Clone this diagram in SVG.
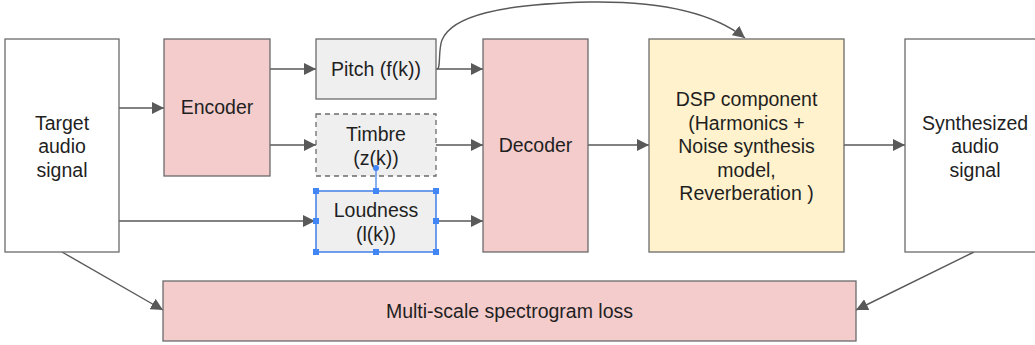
<svg xmlns="http://www.w3.org/2000/svg" width="1035" height="345" viewBox="0 0 1035 345">
<style>
.box{stroke:#6b6b6b;stroke-width:1.3}
.white{fill:#ffffff}
.pink{fill:#f4cccc}
.gray{fill:#efefef}
.yellow{fill:#fff2cc}
.dash{stroke-dasharray:5,4}
text{font-family:"Liberation Sans",Arial,sans-serif;font-size:19.5px;fill:#1f1f1f;text-anchor:middle}
.conn{stroke:#595959;stroke-width:1.4;fill:none;marker-end:url(#ah)}
.sel{fill:#4285f4}
</style>
<defs>
<marker id="ah" viewBox="0 0 10 10" refX="10" refY="5" markerWidth="12" markerHeight="12" markerUnits="userSpaceOnUse" orient="auto">
<path d="M0,0 L10,5 L0,10 z" fill="#595959"/>
</marker>
</defs>
<rect width="1035" height="345" fill="#ffffff"/>
<g id="connectors">
<line class="conn" x1="119" y1="108" x2="164" y2="108"/>
<line class="conn" x1="270" y1="69" x2="316" y2="69"/>
<line class="conn" x1="270" y1="145" x2="316" y2="145"/>
<line class="conn" x1="119" y1="221" x2="315" y2="221"/>
<line class="conn" x1="436" y1="69" x2="483" y2="69"/>
<line class="conn" x1="436" y1="145" x2="483" y2="145"/>
<line class="conn" x1="436" y1="221" x2="483" y2="221"/>
<line class="conn" x1="588" y1="145" x2="649" y2="145"/>
<line class="conn" x1="844" y1="145" x2="905" y2="145"/>
<path class="conn" d="M437,69 C441,69 438,50 442,40 C452,16 500,4 590,2 C660,1 712,12 745,38"/>
<line class="conn" x1="62" y1="252" x2="163" y2="310"/>
<line class="conn" x1="974" y1="252" x2="856" y2="310"/>
</g>
<g id="target">
<rect class="box white" x="5" y="39" width="114" height="213"/>
<text x="62" y="130">Target</text>
<text x="62" y="153">audio</text>
<text x="62" y="177">signal</text>
</g>
<g id="encoder">
<rect class="box pink" x="164" y="39" width="106" height="137"/>
<text x="217" y="114">Encoder</text>
</g>
<g id="pitch">
<rect class="box gray" x="316" y="39" width="120" height="60"/>
<text x="376" y="76">Pitch (f(k))</text>
</g>
<g id="timbre">
<rect class="box gray dash" x="316" y="114" width="120" height="62"/>
<text x="376" y="141">Timbre</text>
<text x="376" y="165">(z(k))</text>
</g>
<g id="loudness">
<rect class="gray" x="316" y="191" width="120" height="61" stroke="#4a86e8" stroke-width="1.6"/>
<text x="376" y="217">Loudness</text>
<text x="376" y="241">(l(k))</text>
<line x1="376" y1="168" x2="376" y2="191" stroke="#4a86e8" stroke-width="1.3"/>
<circle class="sel" cx="376" cy="168" r="3"/>
<rect class="sel" x="313" y="188" width="6" height="6"/>
<rect class="sel" x="373" y="188" width="6" height="6"/>
<rect class="sel" x="433" y="188" width="6" height="6"/>
<rect class="sel" x="313" y="218" width="6" height="6"/>
<rect class="sel" x="433" y="218" width="6" height="6"/>
<rect class="sel" x="313" y="249" width="6" height="6"/>
<rect class="sel" x="373" y="249" width="6" height="6"/>
<rect class="sel" x="433" y="249" width="6" height="6"/>
</g>
<g id="decoder">
<rect class="box pink" x="483" y="39" width="105" height="213"/>
<text x="535.5" y="152">Decoder</text>
</g>
<g id="dsp">
<rect class="box yellow" x="649" y="39" width="195" height="213"/>
<text x="746.5" y="106">DSP component</text>
<text x="746.5" y="130">(Harmonics +</text>
<text x="746.5" y="153">Noise synthesis</text>
<text x="746.5" y="177">model,</text>
<text x="746.5" y="200">Reverberation )</text>
</g>
<g id="synth">
<rect class="box white" x="905" y="39" width="140" height="213"/>
<text x="975" y="130">Synthesized</text>
<text x="975" y="153">audio</text>
<text x="975" y="177">signal</text>
</g>
<g id="loss">
<rect class="box pink" x="163" y="281" width="693" height="60"/>
<text x="509.5" y="318">Multi-scale spectrogram loss</text>
</g>
</svg>
